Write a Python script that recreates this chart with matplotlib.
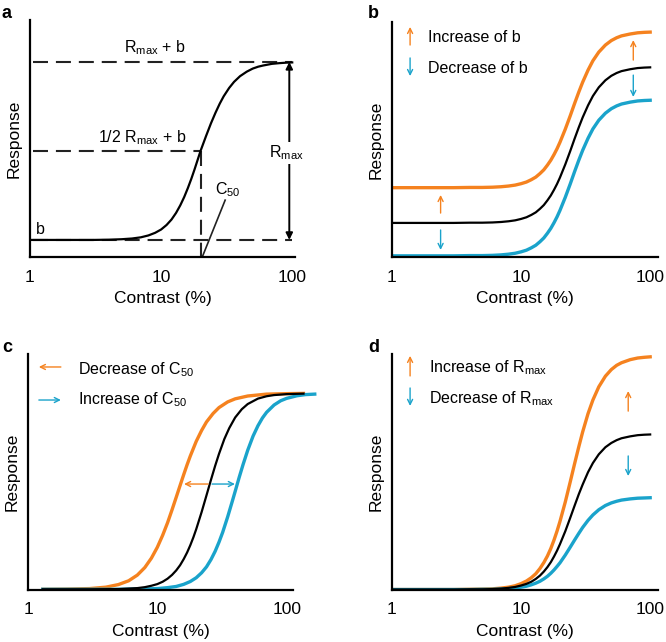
import matplotlib
matplotlib.use("Agg")
import matplotlib.pyplot as plt

plt.rcParams['font.family'] = ['Liberation Sans', 'DejaVu Sans']
plt.rcParams['mathtext.fontset'] = 'custom'
plt.rcParams['mathtext.rm'] = 'Liberation Sans'

ORANGE = '#F5821F'
CYAN = '#1AA3CB'
FS = 11.5      # annotation text
FS_AX = 12.5   # ticks and axis labels

# contrast grid used in panels a, b and d
contrast = [1, 2, 3, 4, 5, 6, 7, 8, 9, 10, 11, 12, 13, 14, 15, 16, 17, 18, 19, 20,
            22, 24, 26, 28, 30, 33, 36, 40, 45, 50, 55, 60, 70, 80, 90, 100]

# panel a: baseline b, Rmax + b, C50 ~ 20
a_resp = [0.072, 0.072, 0.072, 0.073, 0.075, 0.078, 0.083, 0.091, 0.102, 0.116, 0.135,
          0.158, 0.186, 0.218, 0.253, 0.291, 0.330, 0.370, 0.410, 0.448,
          0.510, 0.564, 0.609, 0.647, 0.678, 0.713, 0.739, 0.763, 0.782, 0.795, 0.803,
          0.808, 0.815, 0.818, 0.820, 0.821]
a_top, a_half, a_base, a_c50 = 0.823, 0.447, 0.072, 20

# panel b: change of baseline
b_black = [0.145, 0.145, 0.145, 0.146, 0.146, 0.147, 0.149, 0.152, 0.156, 0.162, 0.169,
           0.179, 0.190, 0.205, 0.221, 0.241, 0.262, 0.286, 0.311, 0.338,
           0.394, 0.450, 0.504, 0.552, 0.594, 0.645, 0.685, 0.722, 0.752, 0.771, 0.783,
           0.791, 0.799, 0.804, 0.806, 0.807]
b_orange = [0.295, 0.295, 0.295, 0.296, 0.296, 0.297, 0.299, 0.302, 0.306, 0.312, 0.319,
            0.329, 0.340, 0.355, 0.371, 0.391, 0.412, 0.436, 0.461, 0.488,
            0.544, 0.600, 0.654, 0.702, 0.744, 0.795, 0.835, 0.872, 0.902, 0.921, 0.933,
            0.941, 0.949, 0.954, 0.956, 0.957]
b_cyan = [0.005, 0.005, 0.005, 0.006, 0.006, 0.007, 0.009, 0.012, 0.016, 0.022, 0.029,
          0.039, 0.050, 0.065, 0.081, 0.101, 0.122, 0.146, 0.171, 0.198,
          0.254, 0.310, 0.364, 0.412, 0.454, 0.505, 0.545, 0.582, 0.612, 0.631, 0.643,
          0.651, 0.659, 0.664, 0.666, 0.667]

# panel c: change of C50 (curves run past the end of the axis)
c_orange_c = [1.3, 2, 3, 4, 5, 6, 7, 8, 9, 10, 11, 12, 13, 14, 15, 16, 17, 18, 20, 22,
              24, 27, 30, 35, 40, 50, 70, 100, 135]
c_orange = [0.003, 0.004, 0.006, 0.012, 0.023, 0.039, 0.063, 0.095, 0.135, 0.181, 0.232,
            0.285, 0.340, 0.393, 0.443, 0.489, 0.531, 0.568, 0.630, 0.676,
            0.712, 0.748, 0.773, 0.797, 0.810, 0.822, 0.830, 0.832, 0.833]
c_black_c = [1.3, 2, 3, 5, 7, 8, 9, 10, 11, 12, 13, 14, 15, 16, 17, 18, 19, 20, 22, 24,
             26, 28, 30, 33, 36, 40, 45, 50, 60, 70, 80, 100, 135]
c_black = [0.003, 0.003, 0.003, 0.004, 0.008, 0.012, 0.018, 0.025, 0.035, 0.048, 0.064,
           0.083, 0.105, 0.131, 0.159, 0.190, 0.223, 0.258, 0.330, 0.401,
           0.467, 0.526, 0.577, 0.640, 0.686, 0.731, 0.766, 0.788, 0.811, 0.821, 0.826,
           0.830, 0.832]
c_cyan_c = [1.3, 2, 3, 5, 7, 10, 12, 14, 16, 18, 20, 22, 24, 26, 28, 30, 32, 35, 38, 40,
            43, 46, 50, 55, 60, 65, 70, 80, 90, 100, 120, 140, 165]
c_cyan = [0.003, 0.003, 0.003, 0.003, 0.004, 0.006, 0.010, 0.015, 0.024, 0.036, 0.052,
          0.073, 0.098, 0.129, 0.164, 0.203, 0.244, 0.310, 0.376, 0.418,
          0.478, 0.531, 0.592, 0.652, 0.696, 0.729, 0.753, 0.784, 0.802, 0.812, 0.823,
          0.828, 0.830]

# panel d: change of Rmax
d_black = [0.002, 0.002, 0.002, 0.003, 0.003, 0.004, 0.006, 0.009, 0.013, 0.019, 0.026,
           0.035, 0.047, 0.061, 0.078, 0.097, 0.118, 0.142, 0.167, 0.194,
           0.249, 0.305, 0.358, 0.406, 0.447, 0.499, 0.538, 0.575, 0.605, 0.623, 0.635,
           0.643, 0.651, 0.656, 0.658, 0.659]
d_orange = [0.002, 0.002, 0.002, 0.003, 0.004, 0.005, 0.008, 0.012, 0.018, 0.027, 0.038,
            0.052, 0.069, 0.091, 0.116, 0.144, 0.176, 0.212, 0.250, 0.290,
            0.373, 0.457, 0.536, 0.607, 0.670, 0.747, 0.805, 0.861, 0.906, 0.934, 0.952,
            0.963, 0.976, 0.983, 0.986, 0.988]
d_cyan = [0.002, 0.002, 0.002, 0.002, 0.003, 0.003, 0.004, 0.006, 0.008, 0.012, 0.016,
          0.022, 0.029, 0.037, 0.047, 0.058, 0.071, 0.085, 0.100, 0.115,
          0.148, 0.181, 0.212, 0.240, 0.265, 0.295, 0.318, 0.340, 0.358, 0.369, 0.376,
          0.381, 0.386, 0.389, 0.390, 0.391]

RMAX = r'R$_\mathregular{max}$'
C50 = r'C$_\mathregular{50}$'

W, H = 666, 642
fig = plt.figure(figsize=(W / 100, H / 100), dpi=100)


def make_ax(x0, x1, ytop, ybot, xmax):
    ax = fig.add_axes([x0 / W, 1 - ybot / H, (x1 - x0) / W, (ybot - ytop) / H])
    ax.set_xscale('log')
    ax.set_xlim(1, xmax)
    ax.set_ylim(0, 1)
    for s in ['top', 'right']:
        ax.spines[s].set_visible(False)
    for s in ['left', 'bottom']:
        ax.spines[s].set_linewidth(1.6)
    ax.set_xticks([1, 10, 100])
    ax.set_xticklabels(['1', '10', '100'])
    ax.minorticks_off()
    ax.set_yticks([])
    ax.tick_params(axis='x', length=0, pad=9, labelsize=FS_AX)
    ax.set_xlabel('Contrast (%)', fontsize=FS_AX, labelpad=5)
    ax.set_ylabel('Response', fontsize=FS_AX, labelpad=6)
    return ax


def arrow(ax, start, end, color, coords='axes fraction'):
    ax.annotate('', xy=end, xytext=start, xycoords=coords, textcoords=coords,
                arrowprops=dict(arrowstyle='->', color=color, lw=1.0,
                                mutation_scale=9, shrinkA=0, shrinkB=0))


ax_a = make_ax(30, 295, 20, 257, 105)
ax_b = make_ax(392, 658, 22, 257, 115)
ax_c = make_ax(28, 293, 354, 590, 112)
ax_d = make_ax(392, 658, 354, 590, 115)

# ---- a
dash = dict(color='#222222', lw=1.5, dashes=(7.2, 3.8))
ax_a.plot([1.05, 100], [a_top, a_top], **dash)
ax_a.plot([1.05, a_c50], [a_half, a_half], **dash)
ax_a.plot([1.05, 100], [a_base, a_base], **dash)
ax_a.plot([a_c50, a_c50], [a_half, 0], **dash)
ax_a.plot(contrast, a_resp, color='black', lw=1.6)
ax_a.annotate('', xy=(95, a_top), xytext=(95, a_base),
              arrowprops=dict(arrowstyle='<|-|>', color='black', lw=1.4,
                              mutation_scale=10, shrinkA=0, shrinkB=0))
ax_a.text(90, 0.44, RMAX, fontsize=FS, ha='center', va='center',
          bbox=dict(facecolor='white', edgecolor='none', pad=1))
ax_a.text(9.0, 0.882, RMAX + ' + b', fontsize=FS, ha='center', va='center')
ax_a.text(7.2, 0.502, '1/2 ' + RMAX + ' + b', fontsize=FS, ha='center', va='center')
ax_a.text(1.19, 0.114, 'b', fontsize=FS, ha='center', va='center')
ax_a.plot([20.6, 30.8], [0, 0.24], color='#222222', lw=1.2)
ax_a.text(32.5, 0.285, C50, fontsize=FS, ha='center', va='center')

# ---- b
ax_b.plot(contrast, b_orange, color=ORANGE, lw=2.4)
ax_b.plot(contrast, b_cyan, color=CYAN, lw=2.4)
ax_b.plot(contrast, b_black, color='black', lw=1.6)
arrow(ax_b, (0.068, 0.902), (0.068, 0.979), ORANGE)
arrow(ax_b, (0.068, 0.847), (0.068, 0.770), CYAN)
ax_b.text(0.135, 0.936, 'Increase of b', fontsize=FS, transform=ax_b.transAxes, va='center')
ax_b.text(0.135, 0.804, 'Decrease of b', fontsize=FS, transform=ax_b.transAxes, va='center')
arrow(ax_b, (2.38, 0.187), (2.38, 0.264), ORANGE, 'data')
arrow(ax_b, (2.38, 0.115), (2.38, 0.030), CYAN, 'data')
arrow(ax_b, (74, 0.838), (74, 0.923), ORANGE, 'data')
arrow(ax_b, (74, 0.774), (74, 0.681), CYAN, 'data')

# ---- c
ax_c.plot(c_orange_c, c_orange, color=ORANGE, lw=2.4, clip_on=False)
ax_c.plot(c_cyan_c, c_cyan, color=CYAN, lw=2.4, clip_on=False)
ax_c.plot(c_black_c, c_black, color='black', lw=1.6, clip_on=False)
arrow(ax_c, (0.124, 0.945), (0.041, 0.945), ORANGE)
arrow(ax_c, (0.041, 0.805), (0.124, 0.805), CYAN)
ax_c.text(0.188, 0.932, 'Decrease of ' + C50, fontsize=FS, transform=ax_c.transAxes, va='center')
ax_c.text(0.188, 0.805, 'Increase of ' + C50, fontsize=FS, transform=ax_c.transAxes, va='center')
arrow(ax_c, (24.7, 0.449), (16.1, 0.449), ORANGE, 'data')
arrow(ax_c, (26.5, 0.449), (39.8, 0.449), CYAN, 'data')

# ---- d
ax_d.plot(contrast, d_orange, color=ORANGE, lw=2.4)
ax_d.plot(contrast, d_cyan, color=CYAN, lw=2.4)
ax_d.plot(contrast, d_black, color='black', lw=1.6)
arrow(ax_d, (0.068, 0.907), (0.068, 0.992), ORANGE)
arrow(ax_d, (0.068, 0.856), (0.068, 0.780), CYAN)
ax_d.text(0.139, 0.941, 'Increase of ' + RMAX, fontsize=FS, transform=ax_d.transAxes, va='center')
ax_d.text(0.139, 0.809, 'Decrease of ' + RMAX, fontsize=FS, transform=ax_d.transAxes, va='center')
arrow(ax_d, (67.6, 0.758), (67.6, 0.843), ORANGE, 'data')
arrow(ax_d, (67.6, 0.568), (67.6, 0.483), CYAN, 'data')

# panel letters
for lbl, x, y in [('a', 2, 13), ('b', 368, 13), ('c', 2, 348), ('d', 368, 347)]:
    fig.text(x / W, 1 - y / H, lbl, fontsize=13, fontweight='bold', va='center')

fig.savefig('out.png', dpi=100)
